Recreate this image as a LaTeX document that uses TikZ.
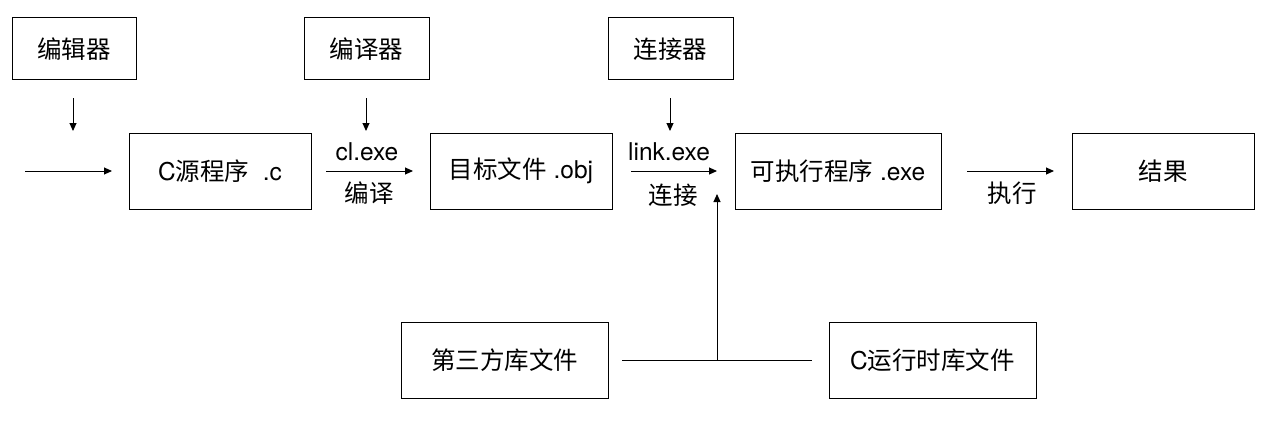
\documentclass[tikz,border=0pt]{standalone}
\usepackage{fontspec}
\setmainfont{Noto Sans CJK SC}
\newfontfamily\lat{TeX Gyre Heros}
\usetikzlibrary{arrows.meta}
\begin{document}
\begin{tikzpicture}[x=1pt,y=-1pt,
  box/.style={draw,line width=1pt,inner sep=0pt,font=\fontsize{24.5}{28}\selectfont},
  lbl/.style={inner sep=0pt,font=\fontsize{24.5}{28}\selectfont},
  arr/.style={line width=1pt,-{Triangle[length=8pt,width=7pt]}},
  ln/.style={line width=1pt}]
\useasboundingbox (0,0) rectangle (1277,428);
\fill[white] (0,0) rectangle (1277,428);
% top boxes
\node[box,minimum width=124pt,minimum height=62pt] (ed) at (74,49) {编辑器};
\node[box,minimum width=125pt,minimum height=62pt] (cp) at (366.5,49) {编译器};
\node[box,minimum width=125pt,minimum height=62pt] (lk) at (670.5,49) {连接器};
% main row
\node[box,minimum width=182pt,minimum height=76pt] (src) at (220,171) {{\lat C}源程序{\lat \ \ .c}};
\node[box,minimum width=182pt,minimum height=76pt] (obj) at (521,171) {目标文件{\lat \ .obj}};
\node[box,minimum width=206pt,minimum height=76pt] (exe) at (838,171) {可执行程序{\lat \ .exe}};
\node[box,minimum width=182pt,minimum height=76pt] (res) at (1163,171) {结果};
% bottom row
\node[box,minimum width=207pt,minimum height=76pt] (lib3) at (504.5,360) {第三方库文件};
\node[box,minimum width=207pt,minimum height=76pt] (crt) at (932.5,360) {{\lat C}运行时库文件};
% free-end coordinates
\coordinate (e1) at (73,98);  \coordinate (e2) at (73,131);
\coordinate (h1) at (25,171); \coordinate (h2) at (112,171);
\coordinate (c1) at (366,98); \coordinate (c2) at (366,131);
\coordinate (a1) at (326,171); \coordinate (a2) at (413,171);
\coordinate (l1) at (670,98); \coordinate (l2) at (670,131);
\coordinate (b1) at (631,171); \coordinate (b2) at (717,171);
\coordinate (x1) at (967,171); \coordinate (x2) at (1054,171);
\coordinate (m1) at (622,360); \coordinate (m2) at (812,360);
\coordinate (j) at (717,360); \coordinate (jt) at (717,194);
% arrows
\draw[arr] (e1) -- (e2);
\draw[arr] (h1) -- (h2);
\draw[arr] (c1) -- (c2);
\draw[arr] (a1) -- (a2);
\draw[arr] (l1) -- (l2);
\draw[arr] (b1) -- (b2);
\draw[arr] (x1) -- (x2);
\draw[ln] (m1) -- (m2);
\draw[arr] (j) -- (jt);
% labels
\node[lbl,font=\lat\fontsize{24.5}{28}\selectfont] (t1) at (367,152) {cl.exe};
\node[lbl] (t2) at (369,193) {编译};
\node[lbl,font=\lat\fontsize{24.5}{28}\selectfont] (t3) at (669,152) {link.exe};
\node[lbl] (t4) at (673,195) {连接};
\node[lbl] (t5) at (1012,193) {执行};
\end{tikzpicture}
\end{document}
